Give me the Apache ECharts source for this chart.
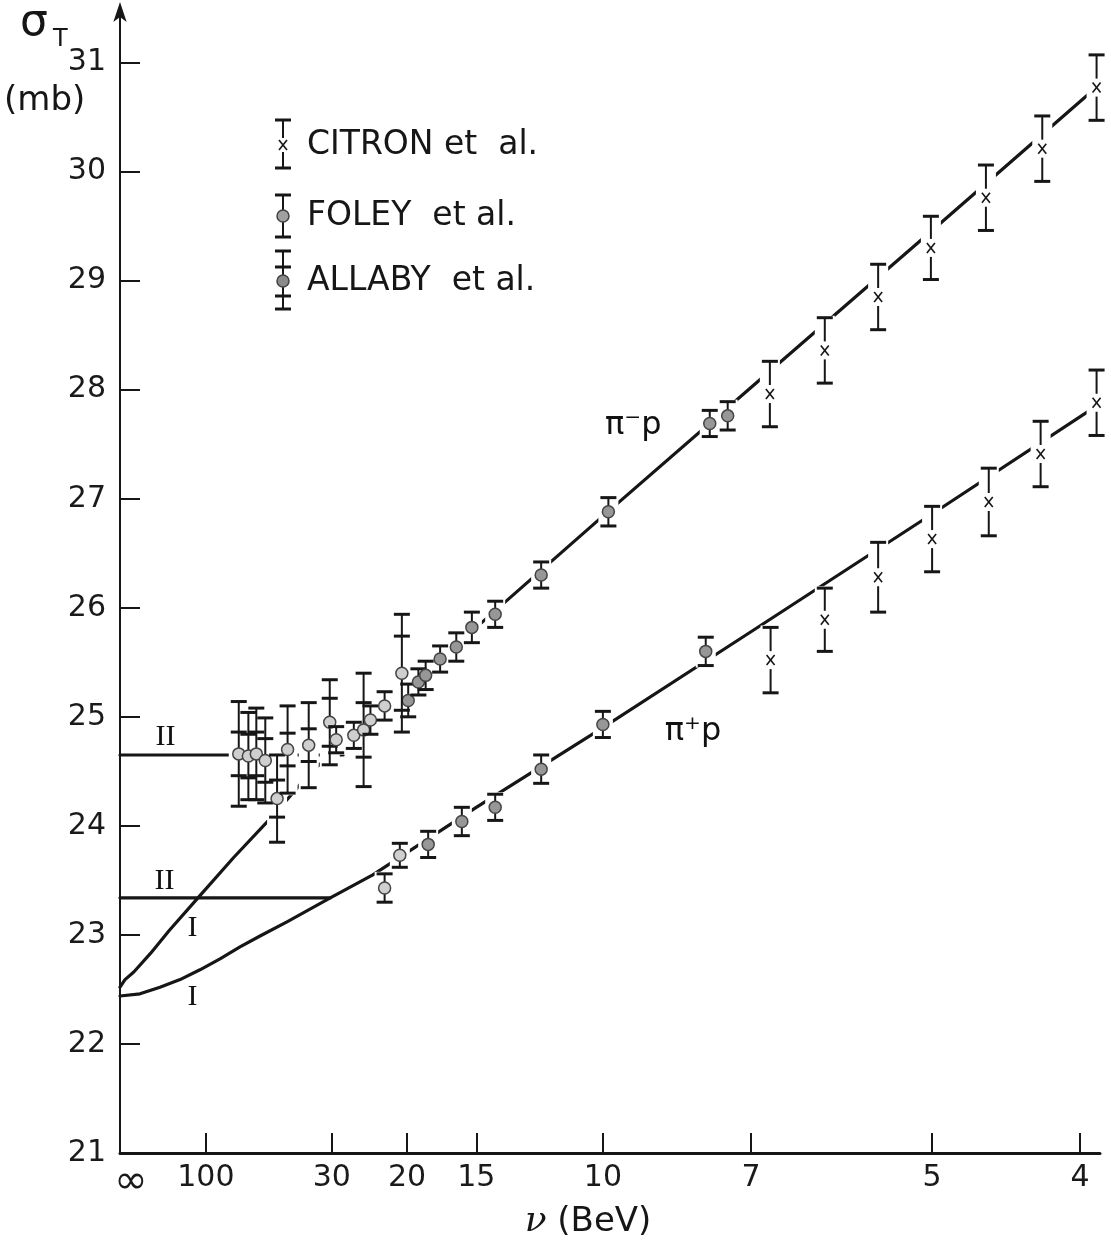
<!DOCTYPE html>
<html>
<head>
<meta charset="utf-8">
<script src="https://cdn.jsdelivr.net/npm/echarts@6/dist/echarts.min.js"></script>
<style>
  html, body { margin: 0; background: #fff; }
  #chart { width: 1111px; height: 1249px; }
</style>
</head>
<body>
<div id="chart"></div>
<script>
// x axis is linear in nu^(-3/4); nu = Infinity sits at 0
var xTickNu = [Infinity, 100, 30, 20, 15, 10, 7, 5, 4];
var xTickText = ['∞', '100', '30', '20', '15', '10', '7', '5', '4'];
var yTicks = [21, 22, 23, 24, 25, 26, 27, 28, 29, 30, 31];

// CITRON et al.
var citronMinusNu = [6.73, 6.04, 5.48, 5.01, 4.59, 4.22, 3.91];
var citronMinusSigma = [27.96, 28.36, 28.85, 29.30, 29.76, 30.21, 30.77];
var citronMinusErr = [0.30, 0.30, 0.30, 0.29, 0.30, 0.30, 0.30];
var citronPlusNu = [6.72, 6.04, 5.48, 5.00, 4.57, 4.23, 3.91];
var citronPlusSigma = [25.52, 25.89, 26.28, 26.63, 26.97, 27.41, 27.88];
var citronPlusErr = [0.30, 0.29, 0.32, 0.30, 0.31, 0.30, 0.30];

// FOLEY et al.
var foleyMinusNu = [19.9, 19.0, 18.4, 17.3, 16.2, 15.25, 14.0, 12.0, 9.85, 7.66, 7.36];
var foleyMinusSigma = [25.15, 25.32, 25.38, 25.53, 25.64, 25.82, 25.94, 26.30, 26.88, 27.69, 27.76];
var foleyMinusErr = [0.15, 0.12, 0.13, 0.12, 0.13, 0.14, 0.12, 0.12, 0.13, 0.12, 0.13];
var foleyPlusNu = [18.2, 15.85, 14.0, 12.0, 10.0, 7.73];
var foleyPlusSigma = [23.83, 24.04, 24.17, 24.52, 24.93, 25.60];
var foleyPlusErr = [0.12, 0.13, 0.12, 0.13, 0.12, 0.13];

// ALLABY et al. (total and inner error)
var allabyMinusNu = [64.9, 58.5, 54.0, 49.6, 44.7, 41.0, 35.0, 30.4, 29.2, 26.3, 24.9, 24.0, 22.3, 20.5];
var allabyMinusSigma = [24.66, 24.64, 24.66, 24.60, 24.25, 24.70, 24.74, 24.95, 24.79, 24.83, 24.88, 24.97, 25.10, 25.40];
var allabyMinusErr = [0.48, 0.40, 0.42, 0.39, 0.40, 0.40, 0.39, 0.39, 0.12, 0.12, 0.52, 0.13, 0.13, 0.54];
var allabyMinusInner = [0.20, 0.20, 0.20, 0.20, 0.17, 0.15, 0.15, 0.22, 0, 0, 0.25, 0, 0, 0.34];
var allabyPlusNu = [22.3, 20.7];
var allabyPlusSigma = [23.43, 23.73];
var allabyPlusErr = [0.13, 0.11];
var allabyPlusInner = [0, 0];

// fitted curves (curve I joining the straight fits)
var curveMinusNu = [Infinity, 4430, 1144, 398, 210, 110, 68.8, 46, 35, 25, 20, 15, 10, 7, 5, 3.92];
var curveMinusSigma = [22.52, 22.59, 22.66, 22.83, 23.04, 23.36, 23.71, 24.10, 24.47, 24.93, 25.27, 25.82, 26.84, 28.02, 29.46, 30.76];
var curvePlusNu = [Infinity, 697, 277, 161, 110, 81.6, 64.0, 52.1, 41.2, 30.3, 23.7, 15, 10, 7, 5, 3.92];
var curvePlusSigma = [22.44, 22.46, 22.52, 22.59, 22.68, 22.78, 22.89, 22.99, 23.12, 23.34, 23.55, 24.17, 24.90, 25.78, 26.86, 27.84];
var flatMinusNu = [Infinity, 28.0];
var flatMinusSigma = [24.65, 24.65];
var flatPlusNu = [Infinity, 30.3];
var flatPlusSigma = [23.34, 23.34];

// text labels inside the plot
var reactionText = ['π⁻p', 'π⁺p'];
var reactionNu = [9.22, 7.96];
var reactionSigma = [27.67, 24.86];
var romanText = ['II', 'II', 'I', 'I'];
var romanNu = [234, 240, 125.5, 125.5];
var romanSigma = [24.81, 23.49, 23.06, 22.43];

function toT(nu) { return Math.pow(nu, -0.75); }

function pts(nu, sig, err, inner) {
    return nu.map(function (n, i) {
        return [toT(n), sig[i], err ? err[i] : 0, inner ? inner[i] : 0];
    });
}

var INK = '#161616';

function drawBars(kind) {
    return function (params, api) {
        var t = api.value(0), s = api.value(1), e = api.value(2), ie = api.value(3);
        var c = api.coord([t, s]);
        var x = c[0], y = c[1];
        var yTop = api.coord([t, s + e])[1], yBot = api.coord([t, s - e])[1];
        var thin = { stroke: INK, lineWidth: 2 };
        var cap = { stroke: INK, lineWidth: 3 };
        var kids = [];
        function seg(x1, y1, x2, y2, st) {
            kids.push({ type: 'line', shape: { x1: x1, y1: y1, x2: x2, y2: y2 }, style: st });
        }
        if (kind === 'citron') {
            seg(x, yTop, x, y - 9, thin);
            seg(x, y + 9, x, yBot, thin);
            seg(x - 4, y - 5, x + 4, y + 5, { stroke: INK, lineWidth: 1.6 });
            seg(x - 4, y + 5, x + 4, y - 5, { stroke: INK, lineWidth: 1.6 });
        } else {
            seg(x, yTop, x, yBot, thin);
        }
        seg(x - 8, yTop, x + 8, yTop, cap);
        seg(x - 8, yBot, x + 8, yBot, cap);
        if (ie > 0) {
            var iT = api.coord([t, s + ie])[1], iB = api.coord([t, s - ie])[1];
            seg(x - 8, iT, x + 8, iT, cap);
            seg(x - 8, iB, x + 8, iB, cap);
        }
        if (kind !== 'citron') {
            kids.push({
                type: 'circle', shape: { cx: x, cy: y, r: 6 },
                style: { fill: kind === 'allaby' ? '#cfcfcf' : '#979797', stroke: '#444', lineWidth: 1.5 }
            });
        }
        return { type: 'group', children: kids };
    };
}

// white patch behind each bar, so the fitted line breaks there
function drawHalo(params, api) {
    var t = api.value(0), s = api.value(1), e = api.value(2);
    var top = api.coord([t, s + e]), bot = api.coord([t, s - e]);
    return {
        type: 'rect',
        shape: { x: top[0] - 10, y: top[1] - 2, width: 20, height: bot[1] - top[1] + 4 },
        style: { fill: '#ffffff' }
    };
}

var sets = [
    ['citron', pts(citronMinusNu, citronMinusSigma, citronMinusErr)],
    ['citron', pts(citronPlusNu, citronPlusSigma, citronPlusErr)],
    ['foley', pts(foleyMinusNu, foleyMinusSigma, foleyMinusErr)],
    ['foley', pts(foleyPlusNu, foleyPlusSigma, foleyPlusErr)],
    ['allaby', pts(allabyMinusNu, allabyMinusSigma, allabyMinusErr, allabyMinusInner)],
    ['allaby', pts(allabyPlusNu, allabyPlusSigma, allabyPlusErr, allabyPlusInner)]
];

function curve(nu, sig) {
    return {
        type: 'line', z: 1, symbol: 'none', smooth: false,
        data: pts(nu, sig).map(function (p) { return [p[0], p[1]]; }),
        lineStyle: { color: INK, width: 3.2, cap: 'round', join: 'round' }
    };
}

var series = [
    curve(curveMinusNu, curveMinusSigma),
    curve(curvePlusNu, curvePlusSigma),
    curve(flatMinusNu, flatMinusSigma),
    curve(flatPlusNu, flatPlusSigma)
];
sets.forEach(function (d) {
    series.push({ type: 'custom', z: 5, renderItem: drawHalo, data: d[1], encode: { x: 0, y: 1 } });
});
sets.forEach(function (d) {
    series.push({ type: 'custom', z: 6, renderItem: drawBars(d[0]), data: d[1], encode: { x: 0, y: 1 } });
});

function textSeries(nu, sig, texts, family, size) {
    return {
        type: 'scatter', z: 7, symbolSize: 0,
        itemStyle: { opacity: 1 },
        data: pts(nu, sig).map(function (p) { return [p[0], p[1]]; }),
        label: {
            show: true, position: 'inside', color: '#111', opacity: 1,
            fontFamily: family, fontSize: size,
            formatter: function (p) { return texts[p.dataIndex]; }
        },
        emphasis: { disabled: true }
    };
}
series.push(textSeries(reactionNu, reactionSigma, reactionText, 'DejaVu Sans', 32));
series.push(textSeries(romanNu, romanSigma, romanText, 'Liberation Serif', 30));

var labelFont = { fontFamily: 'DejaVu Sans', fontSize: 30, color: '#1a1a1a' };

function legendRow(yMid, yTop, yBot, kind, text, inner) {
    var x = 283, els = [];
    function seg(x1, y1, x2, y2, w) {
        els.push({ type: 'line', shape: { x1: x1, y1: y1, x2: x2, y2: y2 }, style: { stroke: INK, lineWidth: w } });
    }
    if (kind === 'citron') {
        seg(x, yTop, x, yMid - 7, 2); seg(x, yMid + 7, x, yBot, 2);
        seg(x - 4, yMid - 5, x + 4, yMid + 5, 1.6); seg(x - 4, yMid + 5, x + 4, yMid - 5, 1.6);
    } else {
        seg(x, yTop, x, yBot, 2);
    }
    seg(x - 8, yTop, x + 8, yTop, 3); seg(x - 8, yBot, x + 8, yBot, 3);
    if (inner) { seg(x - 8, inner[0], x + 8, inner[0], 3); seg(x - 8, inner[1], x + 8, inner[1], 3); }
    if (kind !== 'citron') {
        els.push({ type: 'circle', shape: { cx: x, cy: yMid, r: 6 },
            style: { fill: kind === 'allaby' ? '#8a8a8a' : '#a0a0a0', stroke: '#444', lineWidth: 1.5 } });
    }
    els.push({ type: 'text', x: 307, y: yMid,
        style: { text: text, font: '33px "DejaVu Sans"', fill: INK, verticalAlign: 'middle', textVerticalAlign: 'middle' } });
    return els;
}

var graphics = []
    .concat(legendRow(145, 120, 168, 'citron', 'CITRON et  al.'))
    .concat(legendRow(216, 195, 237, 'foley', 'FOLEY  et al.'))
    .concat(legendRow(281, 251, 309, 'allaby', 'ALLABY  et al.', [267, 296]))
    .concat([
        { type: 'text', x: 20, y: 2, style: { text: 'σ', font: '44px "DejaVu Sans"', fill: INK } },
        { type: 'text', x: 53, y: 28, style: { text: 'T', font: '24px "DejaVu Sans"', fill: INK } },
        { type: 'text', x: 4, y: 84, style: { text: '(mb)', font: '34px "DejaVu Sans"', fill: INK } },
        { type: 'text', x: 588, y: 1222,
          style: {
              text: '{v|ν} (BeV)', font: '34px "DejaVu Sans"', fill: INK,
              align: 'center', verticalAlign: 'middle', textAlign: 'center', textVerticalAlign: 'middle',
              rich: { v: { fontFamily: 'DejaVu Serif', fontStyle: 'italic', fontSize: 36, fill: INK } }
          } }
    ]);

var chart = echarts.init(document.getElementById('chart'));
chart.setOption({
    animation: false,
    backgroundColor: '#fff',
    grid: { left: 120, right: 11, top: 8, bottom: 96, containLabel: false },
    xAxis: {
        type: 'value', min: 0, max: 0.3609,
        splitLine: { show: false },
        axisLine: { lineStyle: { color: INK, width: 3 } },
        axisTick: { inside: true, length: 20, lineStyle: { color: INK, width: 2 },
            customValues: xTickNu.map(toT) },
        axisLabel: Object.assign({ margin: 10, customValues: xTickNu.map(toT),
            rich: { inf: { fontFamily: 'DejaVu Sans', fontSize: 40, padding: [0, 0, 0, 22], color: '#1a1a1a' } },
            formatter: function (v) {
                for (var i = 0; i < xTickNu.length; i++) {
                    if (Math.abs(toT(xTickNu[i]) - v) < 1e-6) {
                        return i === 0 ? '{inf|' + xTickText[i] + '}' : xTickText[i];
                    }
                }
                return '';
            } }, labelFont)
    },
    yAxis: {
        type: 'value', min: 21, max: 31.5,
        splitLine: { show: false },
        axisLine: { show: true, symbol: ['none', 'arrow'], symbolSize: [10, 20], symbolOffset: [0, 6],
            lineStyle: { color: INK, width: 2 } },
        axisTick: { show: true, inside: true, length: 20, lineStyle: { color: INK, width: 2 },
            customValues: yTicks },
        axisLabel: Object.assign({ margin: 14, customValues: yTicks }, labelFont)
    },
    graphic: graphics,
    series: series
});
</script>
</body>
</html>
